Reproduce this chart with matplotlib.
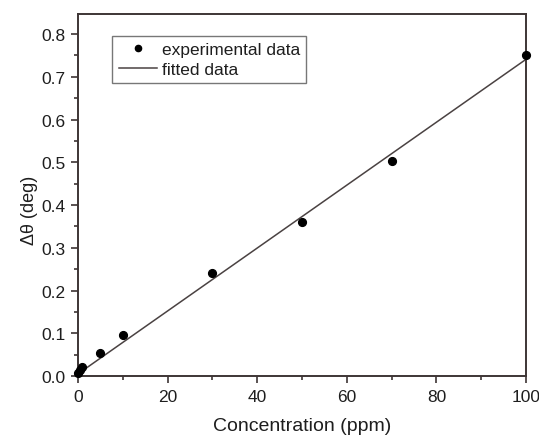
import matplotlib
matplotlib.use("Agg")
import matplotlib.pyplot as plt
from matplotlib.ticker import MultipleLocator, FormatStrFormatter
import numpy as np

plt.rcParams['font.family'] = ['Liberation Sans', 'DejaVu Sans']

# Measured shift of resonance angle vs. concentration
conc = [0.1, 0.5, 1, 5, 10, 30, 50, 70, 100]
dtheta = [0.006, 0.013, 0.022, 0.055, 0.095, 0.240, 0.361, 0.502, 0.752]

# Linear fit parameters
slope = 0.00736
intercept = 0.005
fit_x = [0, 100]

ink = '#3d3535'
txt = '#1e1e1e'

fig = plt.figure(figsize=(5.39, 4.39), dpi=100)
ax = fig.add_axes([0.1447, 0.1412, 0.8312, 0.8246])

fx = np.array(fit_x, dtype=float)
ax.plot(fx, slope * fx + intercept, color='#4a4242', lw=1.1, label='fitted data', zorder=2)
ax.plot(conc, dtheta, 'o', color='black', ms=5.6, label='experimental data',
        clip_on=False, zorder=3)

ax.set_xlim(0, 100)
ax.set_ylim(0, 0.847)
ax.xaxis.set_major_locator(MultipleLocator(20))
ax.xaxis.set_minor_locator(MultipleLocator(10))
ax.yaxis.set_major_locator(MultipleLocator(0.1))
ax.yaxis.set_minor_locator(MultipleLocator(0.05))
ax.yaxis.set_major_formatter(FormatStrFormatter('%.1f'))

for s in ax.spines.values():
    s.set_color(ink)
    s.set_linewidth(1.4)
ax.tick_params(which='both', direction='out', color=ink, width=1.2,
               labelsize=12.5, labelcolor=txt, top=False, right=False)
ax.tick_params(which='major', length=5, pad=4)
ax.tick_params(which='minor', length=3)

ax.set_xlabel('Concentration (ppm)', fontsize=14, color=txt, labelpad=10)
ax.set_ylabel('Δθ (deg)', fontsize=13, color=txt)
ax.yaxis.set_label_coords(-0.09, 0.46)

handles, labels = ax.get_legend_handles_labels()
leg = ax.legend(handles[::-1], labels[::-1], loc='upper left',
                bbox_to_anchor=(0.077, 0.939), borderaxespad=0, fontsize=12.5,
                frameon=True, fancybox=False, edgecolor='#555555',
                handlelength=2.2, markerscale=0.8, borderpad=0.35,
                labelspacing=0.25, handletextpad=0.3)
leg.get_frame().set_linewidth(1.0)
for t in leg.get_texts():
    t.set_color(txt)

fig.savefig('out.png', dpi=100, facecolor='white')
